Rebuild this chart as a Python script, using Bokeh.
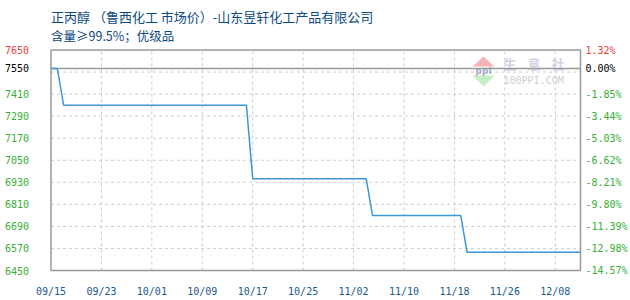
from bokeh.plotting import figure
from bokeh.models import FixedTicker, LinearAxis, Range1d
from bokeh.core.properties import value
from bokeh.embed import file_html
from bokeh.resources import INLINE

# Daily price of n-propanol, days counted from 09/15
days = [0, 1, 2, 31, 32, 50, 51, 65, 66, 84]
prices = [7550, 7550, 7350, 7350, 6950, 6950, 6750, 6750, 6550, 6550]

x_ticks = [0, 8, 16, 24, 32, 40, 48, 56, 64, 72, 80]
x_labels = ["09/15", "09/23", "10/01", "10/09", "10/17", "10/25",
            "11/02", "11/10", "11/18", "11/26", "12/08"]

y_top = 7650
y_bottom = 6450
y_grid = [7530, 7410, 7290, 7170, 7050, 6930, 6810, 6690, 6570]
y_labels = [7650, 7550, 7410, 7290, 7170, 7050, 6930, 6810, 6690, 6570, 6450]
base_price = prices[0]

title_line1 = "正丙醇 （鲁西化工 市场价）-山东昱轩化工产品有限公司"
title_line2 = "含量≥99.5%；优级品"

GREEN = "#35b035"
RED = "#f03c3c"
BLUE_TXT = "#1a5a90"
HEAD = "#0c4a82"
MONO = "DejaVu Sans Mono"
CJK = "Noto Sans CJK SC"

# canvas geometry (pixels): the chart box sits inside a full-width frame
W, H, AXIS_H = 630, 300, 22
L, R, T, B = 50.5, 580.0, 49.5, 270.0
x0, x1 = days[0], days[-1]
ppx = (x1 - x0) / (R - L)
ppy = (y_top - y_bottom) / (B - T)
frame_bottom = H - AXIS_H

p = figure(width=W, height=H, output_backend="svg", toolbar_location=None,
           x_range=Range1d(x0 - L * ppx, x1 + (W - R) * ppx),
           y_range=Range1d(y_bottom - (frame_bottom - B) * ppy, y_top + T * ppy),
           min_border_left=0, min_border_right=0, min_border_top=0,
           min_border_bottom=AXIS_H, x_axis_location=None, y_axis_location=None)
p.outline_line_color = None
p.grid.visible = False
p.background_fill_color = "white"
p.border_fill_color = "white"

# date axis
xaxis = LinearAxis(ticker=FixedTicker(ticks=x_ticks),
                   major_label_overrides={t: s for t, s in zip(x_ticks, x_labels)})
xaxis.axis_line_color = None
xaxis.major_tick_line_color = None
xaxis.minor_tick_line_color = None
xaxis.major_tick_out = 0
xaxis.major_tick_in = 0
xaxis.major_label_text_font = MONO
xaxis.major_label_text_font_size = "10px"
xaxis.major_label_text_color = BLUE_TXT
xaxis.major_label_standoff = 7
p.add_layout(xaxis, "below")

# dashed grid inside the chart box
vx = x_ticks[1:]
p.segment(x0=vx, x1=vx, y0=[y_bottom] * len(vx), y1=[y_top] * len(vx),
          line_color="#cccccc", line_dash="3 3", line_width=1)
p.segment(x0=[x0] * len(y_grid), x1=[x1] * len(y_grid), y0=y_grid, y1=y_grid,
          line_color="#cccccc", line_dash="3 3", line_width=1)

# watermark logo
fx = lambda px: x0 + (px - L) * ppx
fy = lambda py: y_top - (py - T) * ppy
p.patch([fx(472), fx(483), fx(494)], [fy(66), fy(56), fy(66)],
        fill_color="#f6b4b4", line_color=None)
p.patch([fx(472), fx(483), fx(494)], [fy(75), fy(86), fy(75)],
        fill_color="#c6eec6", line_color=None)
p.text(x=[fx(483)], y=[fy(70.5)], text=["ppi"], text_font=value("DejaVu Sans"),
       text_font_size="9px", text_font_style="bold", text_color="#a8acc8",
       text_align="center", text_baseline="middle")
p.text(x=[fx(503), fx(527), fx(551)], y=[fy(63)] * 3, text=["生", "意", "社"],
       text_font=value(CJK), text_font_size="13px", text_font_style="bold",
       text_color="#d0d3e6", text_align="left", text_baseline="middle")
p.text(x=[fx(503)], y=[fy(79.5)], text=["100PPI.COM"], text_font=value(MONO),
       text_font_size="10px", text_color="#cfcfcf", text_align="left",
       text_baseline="middle")

# base price reference line
p.segment(x0=[x0], x1=[x1], y0=[base_price], y1=[base_price],
          line_color="#999999", line_width=1.5)

# chart box
p.quad(left=[x0], right=[x1], bottom=[y_bottom], top=[y_top],
       fill_color=None, line_color="#999999", line_width=1.5)

# price line
p.line(days, prices, line_color="#3b97d6", line_width=1.5)

# value labels on both sides, top value red, base value black
def lab_color(v):
    if v == y_top:
        return RED
    if v == base_price:
        return "#000000"
    return GREEN

colors = [lab_color(v) for v in y_labels]
pct = [f"{(v / base_price - 1) * 100:.2f}%" for v in y_labels]
p.text(x=[x0] * len(y_labels), y=y_labels, text=[str(v) for v in y_labels],
       x_offset=-22, text_align="right", text_baseline="middle",
       text_font=value(MONO), text_font_size="10px", text_color=colors)
p.text(x=[x1] * len(y_labels), y=y_labels, text=pct,
       x_offset=5, text_align="left", text_baseline="middle",
       text_font=value(MONO), text_font_size="10px", text_color=colors)

# heading
p.text(x=[x0, x0], y=[y_top, y_top], text=[title_line1, title_line2],
       y_offset=[-34, -15], text_align="left", text_baseline="middle",
       text_font=value(CJK), text_font_size=["13px", "12.5px"], text_color=HEAD)

open("out.html", "w").write(file_html(p, INLINE))
